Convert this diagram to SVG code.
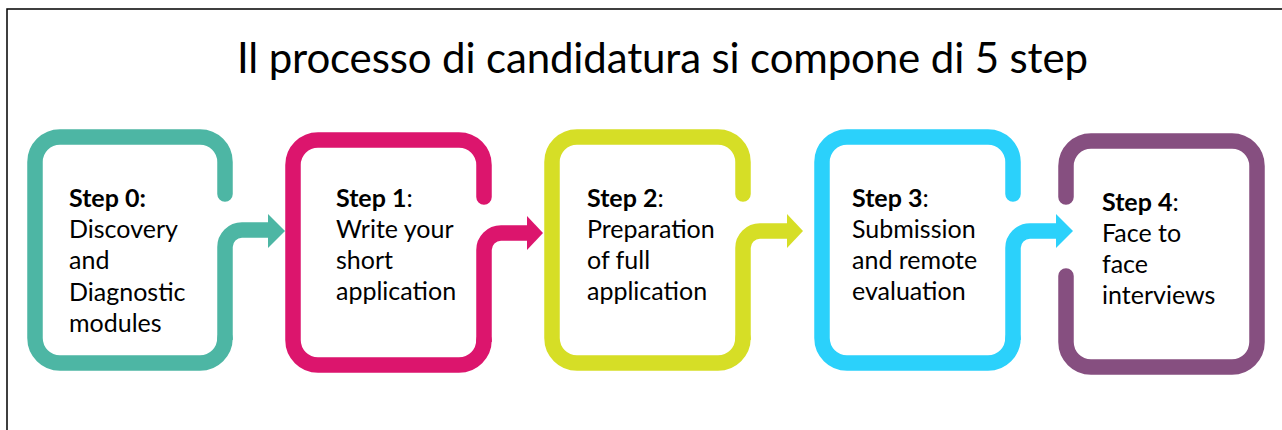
<svg xmlns="http://www.w3.org/2000/svg" width="1282" height="430" viewBox="0 0 1282 430">
<style>
.bg{fill:#ffffff}
.frame{fill:none;stroke:#000;stroke-width:1.5}
.title{font-family:"Lato","Liberation Sans",sans-serif;font-size:42px;fill:#000}
.lbl{font-family:"Lato","Liberation Sans",sans-serif;font-size:25px;fill:#000}
.b{font-weight:bold}
.box{fill:none;stroke-width:15.5;stroke-linecap:round;stroke-linejoin:round}
.teal{stroke:#4db6a4}.tealf{fill:#4db6a4}
.mag{stroke:#dc156d}.magf{fill:#dc156d}
.yel{stroke:#d6de26}.yelf{fill:#d6de26}
.cya{stroke:#2bd1fb}.cyaf{fill:#2bd1fb}
.pur{stroke:#864f80}
</style>
<rect class="bg" x="0" y="0" width="1282" height="430"/>
<rect class="frame" x="7" y="9" width="1400" height="600"/>
<text class="title" x="237" y="73" textLength="851">Il processo di candidatura si compone di 5 step</text>

<g id="step0">
<path class="box teal" d="M225,194 V162 A25,25 0 0 0 200,137 H60 A25,25 0 0 0 35,162 V338 A25,25 0 0 0 60,363 H200 A25,25 0 0 0 225,338"/>
<text class="lbl" x="69"><tspan class="b" x="69" y="207">Step 0:</tspan><tspan x="69" y="238">Discovery</tspan><tspan x="69" y="269">and</tspan><tspan x="69" y="301">Diagnostic</tspan><tspan x="69" y="332">modules</tspan></text>
</g>

<g id="step1">
<path class="box mag" d="M484,197 V165 A25,25 0 0 0 459,140 H318 A25,25 0 0 0 293,165 V340 A25,25 0 0 0 318,365 H459 A25,25 0 0 0 484,340"/>
<text class="lbl"><tspan x="336" y="207"><tspan class="b">Step 1</tspan>:</tspan><tspan x="336" y="238">Write your</tspan><tspan x="336" y="269">short</tspan><tspan x="336" y="300">application</tspan></text>
</g>

<g id="step2">
<path class="box yel" d="M743,194 V162 A25,25 0 0 0 718,137 H577 A25,25 0 0 0 552,162 V338 A25,25 0 0 0 577,363 H718 A25,25 0 0 0 743,338"/>
<text class="lbl"><tspan x="587" y="207"><tspan class="b">Step 2</tspan>:</tspan><tspan x="587" y="238">Preparation</tspan><tspan x="587" y="269">of full</tspan><tspan x="587" y="300">application</tspan></text>
</g>

<g id="step3">
<path class="box cya" d="M1013,194 V162 A25,25 0 0 0 988,137 H847 A25,25 0 0 0 822,162 V338 A25,25 0 0 0 847,363 H988 A25,25 0 0 0 1013,338"/>
<text class="lbl"><tspan x="852" y="207"><tspan class="b">Step 3</tspan>:</tspan><tspan x="852" y="238">Submission</tspan><tspan x="852" y="269">and remote</tspan><tspan x="852" y="300">evaluation</tspan></text>
</g>

<g id="step4">
<path class="box pur" d="M1066,197 V166 A25,25 0 0 1 1091,141 H1232 A25,25 0 0 1 1257,166 V342 A25,25 0 0 1 1232,367 H1091 A25,25 0 0 1 1066,342 V276"/>
<text class="lbl"><tspan x="1102" y="211"><tspan class="b">Step 4</tspan>:</tspan><tspan x="1102" y="242">Face to</tspan><tspan x="1102" y="273">face</tspan><tspan x="1102" y="304">interviews</tspan></text>
</g>

<g id="connectors">
<path class="box teal" style="stroke-linecap:butt" d="M225,340 V247 A17,17 0 0 1 242,230 H269"/>
<polygon class="tealf" points="268,214 285,231 268,248"/>
<path class="box mag" style="stroke-linecap:butt" d="M484,342 V250 A17,17 0 0 1 501,233 H528"/>
<polygon class="magf" points="527,216 543,233 527,250"/>
<path class="box yel" style="stroke-linecap:butt" d="M743,340 V248 A17,17 0 0 1 760,231 H788"/>
<polygon class="yelf" points="787,214 803,231 787,248"/>
<path class="box cya" style="stroke-linecap:butt" d="M1013,340 V248 A17,17 0 0 1 1030,231 H1057"/>
<polygon class="cyaf" points="1056,214 1073,231 1056,248"/>
</g>
</svg>
